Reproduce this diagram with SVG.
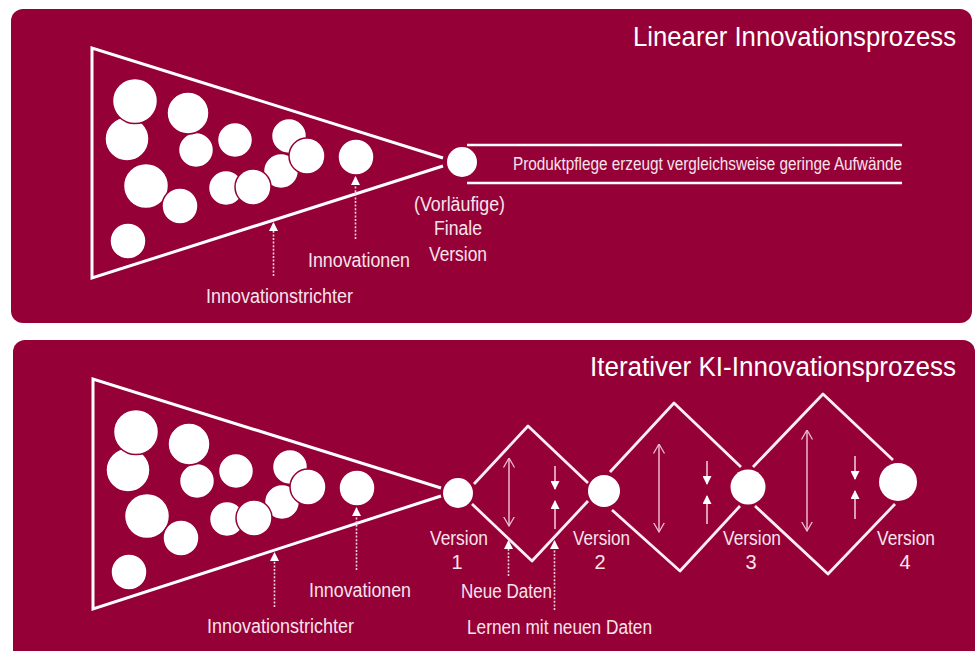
<svg xmlns="http://www.w3.org/2000/svg" width="978" height="651" viewBox="0 0 978 651">
<defs>
<marker id="solid" viewBox="0 0 10 10" refX="9" refY="5" markerWidth="10" markerHeight="9" markerUnits="userSpaceOnUse" orient="auto"><path d="M0 0L10 5L0 10Z" fill="#fff"/></marker>
<marker id="open" viewBox="0 0 10 12" refX="9.5" refY="6" markerWidth="10" markerHeight="14" markerUnits="userSpaceOnUse" orient="auto-start-reverse"><path d="M0 .5L9.5 6L0 11.5" fill="none" stroke="#f0c4d4" stroke-width="1.2"/></marker>
</defs>
<style>
.panel{fill:#950037}
.out{fill:none;stroke:#fff;stroke-width:3;stroke-linejoin:miter}
.dia{fill:none;stroke:#fbeef2;stroke-width:2.8;stroke-linejoin:round}
.dot{fill:#fff;stroke:#950037;stroke-width:1.5}
.node{fill:#fff}
.dash{fill:none;stroke:#f3d3df;stroke-width:1.6;stroke-dasharray:2 1.6;marker-end:url(#solid)}
.small{fill:none;stroke:#f0c4d4;stroke-width:1.6;marker-end:url(#solid)}
.dbl{fill:none;stroke:#eeb9cc;stroke-width:1.5;marker-start:url(#open);marker-end:url(#open)}
text{font-family:"Liberation Sans",Arial,sans-serif;fill:#f8e3eb;font-size:20px}
.c{text-anchor:middle}
.title{fill:#fff;font-size:27px}
</style>
<rect width="978" height="651" fill="#fff"/>
<rect class="panel" x="11" y="9" width="961" height="314" rx="12"/>
<rect class="panel" x="13" y="340" width="962" height="330" rx="12"/>

<g id="funnel-1">
<path class="out" d="M443 158L92 48V278L443 166"/>
<g id="ideas-1">
<circle class="dot" cx="127" cy="139" r="22"/><circle class="dot" cx="135" cy="101" r="22.5"/>
<circle class="dot" cx="196" cy="150" r="17.5"/><circle class="dot" cx="188" cy="113" r="21"/>
<circle class="dot" cx="235" cy="140" r="17.5"/><circle class="dot" cx="289" cy="136" r="17.5"/>
<circle class="dot" cx="281" cy="171" r="17.5"/><circle class="dot" cx="307" cy="156" r="18"/>
<circle class="dot" cx="146" cy="186" r="22.5"/><circle class="dot" cx="180" cy="206" r="18"/>
<circle class="dot" cx="128" cy="241" r="18"/><circle class="dot" cx="226" cy="188" r="17.5"/>
<circle class="dot" cx="253" cy="187" r="18"/><circle class="dot" cx="356" cy="157" r="18"/>
</g>
</g>
<g id="funnel-2">
<path class="out" d="M441 488L93 379V609L441 496"/>
<g id="ideas-2">
<circle class="dot" cx="128" cy="470" r="22"/><circle class="dot" cx="136" cy="432" r="22.5"/>
<circle class="dot" cx="197" cy="481" r="17.5"/><circle class="dot" cx="189" cy="444" r="21"/>
<circle class="dot" cx="236" cy="471" r="17.5"/><circle class="dot" cx="290" cy="467" r="17.5"/>
<circle class="dot" cx="282" cy="502" r="17.5"/><circle class="dot" cx="308" cy="487" r="18"/>
<circle class="dot" cx="147" cy="516" r="22.5"/><circle class="dot" cx="181" cy="538" r="18"/>
<circle class="dot" cx="129" cy="572" r="18"/><circle class="dot" cx="227" cy="519" r="17.5"/>
<circle class="dot" cx="254" cy="518" r="18"/><circle class="dot" cx="357" cy="488" r="18"/>
</g>
</g>

<g id="connectors">
<path class="out" style="stroke-width:2.5" d="M467 145H902M467 183H902"/>
<path class="dash" d="M273.500 276V223"/><path class="dash" d="M355.500 239V177"/>
<path class="dash" d="M274.500 607V553"/><path class="dash" d="M356.500 570V508"/>
<path class="dash" d="M508.500 576V541"/><path class="dash" d="M554.500 610V541"/>
<path class="dia" d="M474 484L528 426L588 483M472 504L532 561L588 501"/>
<path class="dia" d="M610 472L674 403L741 467M612 510L680 571L740 506"/>
<path class="dia" d="M753 467L823 394L893 460M755 506L828 574L895 504"/>
<path class="dbl" d="M509 458V526"/><path class="dbl" d="M659 444V532"/><path class="dbl" d="M807 430V531"/>
<path class="small" d="M555 466V489"/><path class="small" d="M555 529V501"/>
<path class="small" d="M707 461V484"/><path class="small" d="M707 524V496"/>
<path class="small" d="M855 456V479"/><path class="small" d="M855 519V491"/>
</g>

<g id="final"><circle class="node" cx="462" cy="162" r="15"/></g>
<g id="v1"><circle class="node" cx="458" cy="493" r="15"/></g>
<g id="v2"><circle class="node" cx="604" cy="491" r="16"/></g>
<g id="v3"><circle class="node" cx="748" cy="487" r="17.500"/></g>
<g id="v4"><circle class="node" cx="898" cy="482" r="19"/></g>

<g id="labels">
<text class="title" x="633" y="46" textLength="323" lengthAdjust="spacingAndGlyphs">Linearer Innovationsprozess</text>
<text class="title" x="590" y="376" textLength="366" lengthAdjust="spacingAndGlyphs">Iterativer KI-Innovationsprozess</text>
<text class="c" x="707.500" y="170" style="font-size:17.500px" textLength="389" lengthAdjust="spacingAndGlyphs">Produktpflege erzeugt vergleichsweise geringe Aufwände</text>
<text x="206" y="303" textLength="147" lengthAdjust="spacingAndGlyphs">Innovationstrichter</text>
<text x="308" y="267" textLength="102" lengthAdjust="spacingAndGlyphs">Innovationen</text>
<text x="414" y="211" textLength="91" lengthAdjust="spacingAndGlyphs">(Vorläufige)</text>
<text x="434" y="235" textLength="48" lengthAdjust="spacingAndGlyphs">Finale</text>
<text x="429" y="261" textLength="58" lengthAdjust="spacingAndGlyphs">Version</text>
<text x="207" y="633" textLength="147" lengthAdjust="spacingAndGlyphs">Innovationstrichter</text>
<text x="309" y="597" textLength="102" lengthAdjust="spacingAndGlyphs">Innovationen</text>
<text x="430" y="545" textLength="58" lengthAdjust="spacingAndGlyphs">Version</text>
<text class="c" x="457" y="569">1</text>
<text x="573" y="545" textLength="57" lengthAdjust="spacingAndGlyphs">Version</text>
<text class="c" x="600" y="569">2</text>
<text x="723" y="545" textLength="58" lengthAdjust="spacingAndGlyphs">Version</text>
<text class="c" x="751" y="569">3</text>
<text x="877" y="545" textLength="58" lengthAdjust="spacingAndGlyphs">Version</text>
<text class="c" x="905" y="569">4</text>
<text x="461" y="598" textLength="91" lengthAdjust="spacingAndGlyphs">Neue Daten</text>
<text x="467" y="634" textLength="185" lengthAdjust="spacingAndGlyphs">Lernen mit neuen Daten</text>
</g>
</svg>
